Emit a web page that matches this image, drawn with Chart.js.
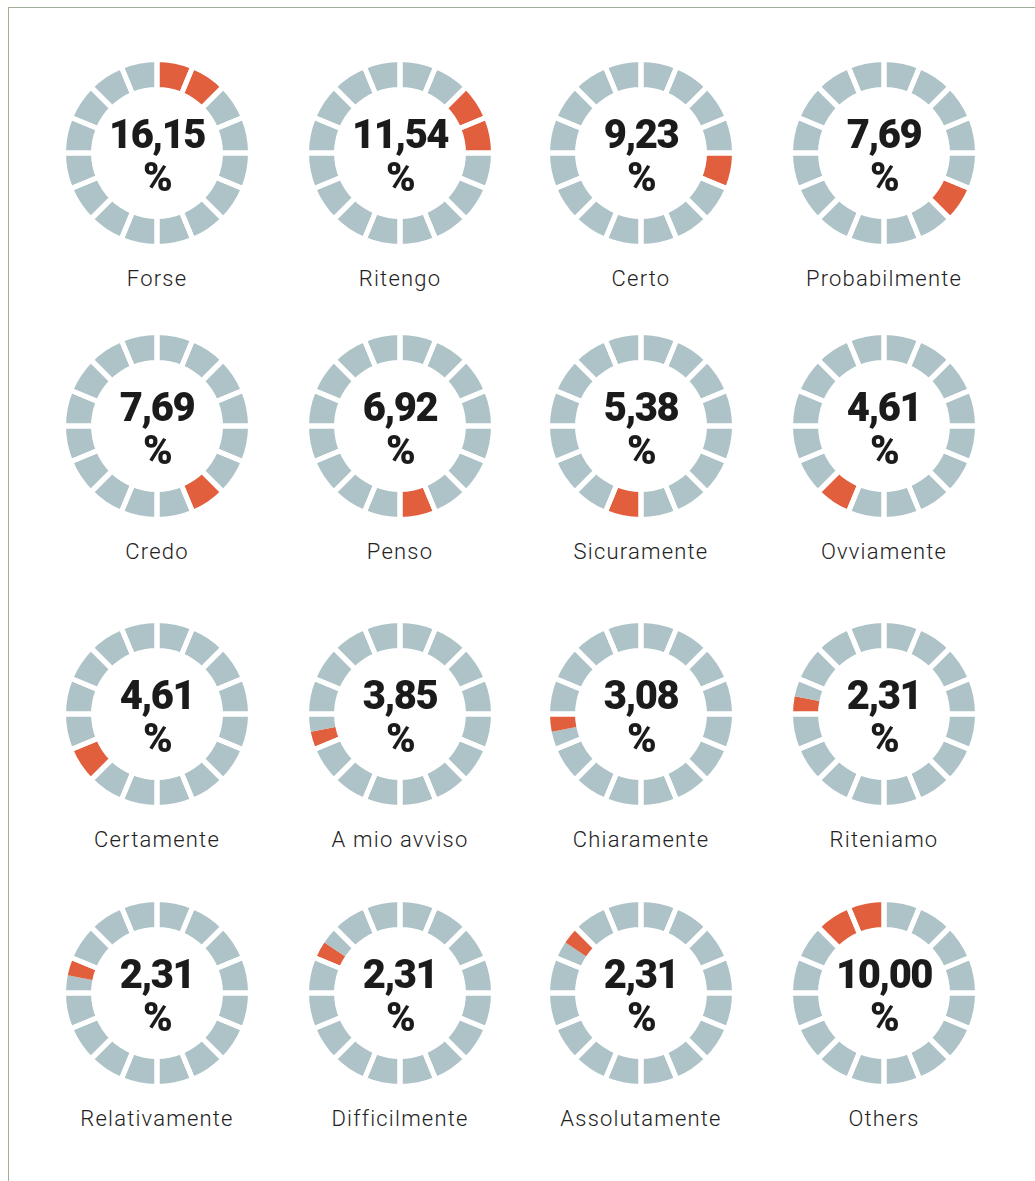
<!DOCTYPE html>
<html>
<head>
<meta charset="utf-8">
<script src="https://cdn.jsdelivr.net/npm/chart.js@4.4.1/dist/chart.umd.min.js"></script>
<style>
    body { margin: 0; background: #fff; width: 1035px; height: 1181px; overflow: hidden; position: relative; }
    #frame { position: absolute; left: 8px; top: 7px; right: 0; bottom: 0; border-left: 1px solid #9fae96; border-top: 1px solid #9fae96; }
    .cell { position: absolute; width: 200px; height: 200px; }
    .cell canvas { position: absolute; left: 0; top: 0; }
    .value { position: absolute; left: 0; top: 60px; width: 200px; text-align: center;
             font-family: Roboto, sans-serif; font-weight: 900; font-size: 40px; line-height: 43px;
             letter-spacing: -1.5px; color: #1b1b1b; }
    .label { position: absolute; left: -30px; top: 211px; width: 260px; text-align: center;
             font-family: Roboto, sans-serif; font-weight: 300; font-size: 22px; line-height: 30px;
             letter-spacing: 1.2px; color: #222; }
</style>
</head>
<body>
<div id="frame"></div>
<div id="grid"></div>
<script>
// data
const labels = ['Forse', 'Ritengo', 'Certo', 'Probabilmente',
    'Credo', 'Penso', 'Sicuramente', 'Ovviamente',
    'Certamente', 'A mio avviso', 'Chiaramente', 'Riteniamo',
    'Relativamente', 'Difficilmente', 'Assolutamente', 'Others'];
const values = [16.15, 11.54, 9.23, 7.69, 7.69, 6.92, 5.38, 4.61,
    4.61, 3.85, 3.08, 2.31, 2.31, 2.31, 2.31, 10.00];
// highlighted part of each ring, in segments (ring has 16 segments)
const highlightStart = [0, 2, 4, 5, 6, 7, 8, 9, 10, 11, 11.5, 12, 12.5, 13, 13.5, 14];
const highlightEnd = [2, 4, 5, 6, 7, 8, 9, 10, 11, 11.5, 12, 12.5, 13, 13.5, 14, 16];
const segmentCount = 16;

// layout
const colX = [157, 400, 641, 884];
const rowY = [153, 426, 714, 993];
const GREY = '#adc3c7';
const RED = '#e25f3e';

const baseOptions = {
    responsive: false,
    animation: false,
    events: [],
    radius: 93.5,
    cutout: '67.9%',
    layout: { padding: 0 },
    plugins: { legend: { display: false }, tooltip: { enabled: false } }
};

const makeCanvas = (parent) => {
    const c = document.createElement('canvas');
    c.width = 200;
    c.height = 200;
    parent.appendChild(c);
    return c;
};

const renderRing = (i) => {
    const cell = document.createElement('div');
    cell.className = 'cell';
    cell.style.left = (colX[i % 4] - 100) + 'px';
    cell.style.top = (rowY[Math.floor(i / 4)] - 100) + 'px';
    document.getElementById('grid').appendChild(cell);

    const start = highlightStart[i];
    const end = highlightEnd[i];

    // coloured ring
    new Chart(makeCanvas(cell), {
        type: 'doughnut',
        data: {
            labels: ['before', labels[i], 'after'],
            datasets: [{
                data: [start, end - start, segmentCount - end],
                backgroundColor: [GREY, RED, GREY],
                borderWidth: 0
            }]
        },
        options: baseOptions
    });

    // white gaps between the segments
    new Chart(makeCanvas(cell), {
        type: 'doughnut',
        data: {
            labels: Array.from({ length: segmentCount }, (_, k) => k),
            datasets: [{
                data: Array(segmentCount).fill(1),
                backgroundColor: 'rgba(0,0,0,0)',
                borderColor: '#ffffff',
                borderWidth: 5,
                borderAlign: 'center'
            }]
        },
        options: baseOptions
    });

    const value = document.createElement('div');
    value.className = 'value';
    value.innerHTML = values[i].toFixed(2).replace('.', ',') + '<br>%';
    cell.appendChild(value);

    const label = document.createElement('div');
    label.className = 'label';
    label.textContent = labels[i];
    cell.appendChild(label);
};

labels.forEach((_, i) => renderRing(i));
</script>
</body>
</html>
